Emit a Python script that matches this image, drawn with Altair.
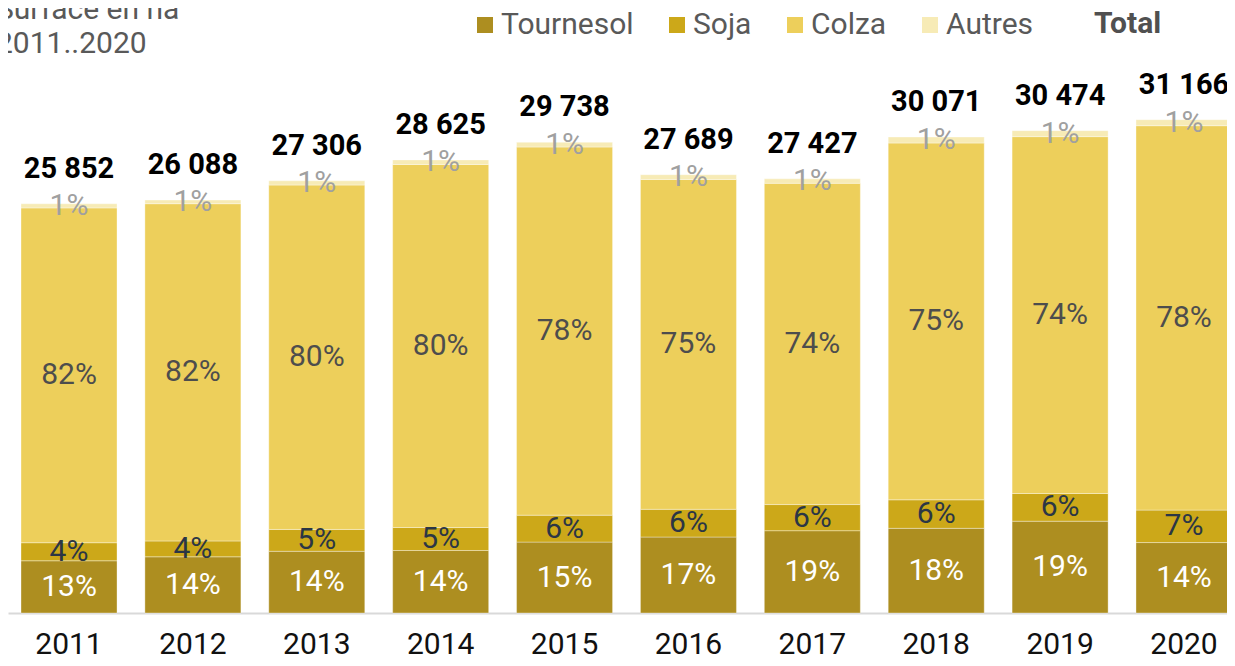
import altair as alt
import pandas as pd

years = ["2011", "2012", "2013", "2014", "2015", "2016", "2017", "2018", "2019", "2020"]
crops = ["Tournesol", "Soja", "Colza", "Autres"]
tournesol = [3300, 3550, 3900, 3950, 4480, 4800, 5200, 5350, 5800, 4450]
soja = [1140, 1000, 1380, 1450, 1700, 1750, 1650, 1800, 1750, 2050]
colza = [21152, 21308, 21756, 22935, 23258, 20839, 20297, 22541, 22544, 24286]
autres = [260, 230, 270, 290, 300, 300, 280, 380, 380, 380]
colors = ["#AD8E20", "#CCA819", "#EDCF5B", "#F7EBB6"]
label_colors = ["#FFFFFF", "#2B3645", "#4D4D4D", "#A0A0A0"]
title_lines = ["Surface en ha", "2011..2020"]

series = [tournesol, soja, colza, autres]
totals = [sum(v) for v in zip(*series)]

rows = []
for ci, (crop, vals) in enumerate(zip(crops, series)):
    for yi, y in enumerate(years):
        rows.append({
            "year": y, "crop": crop, "ord": ci, "value": vals[yi],
            "pct": f"{round(vals[yi] / totals[yi] * 100)}%",
            "lcol": label_colors[ci],
        })
df = pd.DataFrame(rows)
tot_df = pd.DataFrame({
    "year": years, "total": totals,
    "label": [f"{t:,}".replace(",", " ") for t in totals],
})

FONT = "Roboto"
xenc = alt.X("year:N", title=None,
             scale=alt.Scale(range=[0, 1227], paddingInner=0.225, paddingOuter=0.0646,
                             align=0.8125, round=False),
             axis=alt.Axis(labelAngle=0, labelFontSize=30, labelFont=FONT, labelColor="#111111",
                           ticks=False, domainColor="#D9D9D9", domainWidth=2, labelPadding=16))
yscale = alt.Scale(domain=[0, 35000], nice=False)

base = alt.Chart(df).transform_stack(
    stack="value", groupby=["year"], as_=["y0", "y1"], sort=[alt.SortField("ord")]
).transform_calculate(mid="(datum.y0 + datum.y1) / 2")

bars = base.mark_bar(stroke="white", strokeWidth=1, strokeOpacity=0.35).encode(
    x=xenc,
    y=alt.Y("y0:Q", scale=yscale, axis=None),
    y2="y1:Q",
    color=alt.Color("crop:N", scale=alt.Scale(domain=crops, range=colors),
                    legend=alt.Legend(orient="none", legendX=462, legendY=-49, direction="horizontal",
                                      title=None, symbolType="square", symbolSize=256,
                                      labelFontSize=30, labelFont=FONT, labelColor="#595959",
                                      columnPadding=28, labelOffset=1, symbolStrokeWidth=0)),
)

labels = base.mark_text(fontSize=30, font=FONT, baseline="middle").encode(
    x=xenc,
    y=alt.Y("mid:Q", scale=yscale, axis=None),
    text="pct:N",
    color=alt.Color("lcol:N", scale=None),
)

tot = alt.Chart(tot_df).mark_text(fontSize=29, font=FONT, fontWeight="bold", color="#000000",
                                  baseline="alphabetic", dy=-26).encode(
    x=xenc,
    y=alt.Y("total:Q", scale=yscale, axis=None),
    text="label:N",
)

total_leg = alt.Chart(pd.DataFrame({"t": ["Total"]})).mark_text(
    fontSize=30, font=FONT, fontWeight="bold", color="#505050", align="left", baseline="middle"
).encode(x=alt.value(1086), y=alt.value(-35), text="t:N")

title1 = alt.Chart(pd.DataFrame({"t": [title_lines[0]]})).mark_text(
    fontSize=30, font=FONT, color="#595959", align="left", baseline="alphabetic"
).encode(x=alt.value(-12), y=alt.value(-40), text="t:N")
title2 = alt.Chart(pd.DataFrame({"t": [title_lines[1]]})).mark_text(
    fontSize=30, font=FONT, color="#595959", align="left", baseline="alphabetic"
).encode(x=alt.value(-12), y=alt.value(-6), text="t:N")

chart = alt.layer(bars, labels, tot, total_leg, title1, title2).properties(
    width=1219, height=554,
    padding={"left": 0, "top": 51, "right": 0, "bottom": 45},
    autosize=alt.AutoSizeParams(type="none"),
).configure_view(stroke=None)

chart.save("out.html", embed_options={"renderer": "svg", "actions": False})
